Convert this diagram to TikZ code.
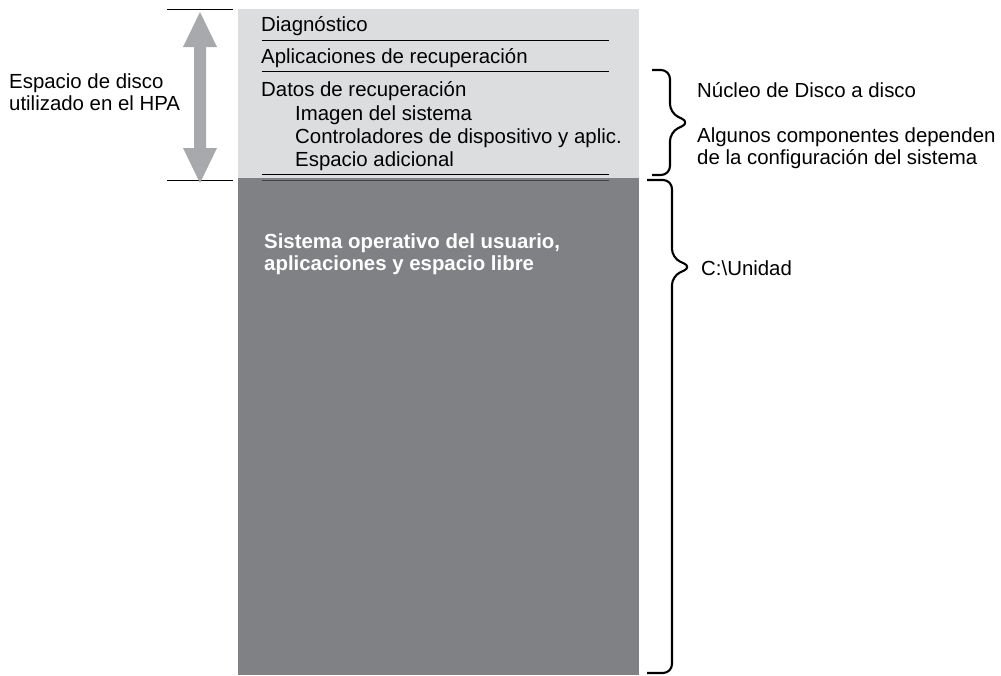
\documentclass[tikz,border=0pt]{standalone}
\usepackage{fontspec}
\setmainfont{Liberation Sans}
\definecolor{lightbox}{HTML}{DCDDDF}
\definecolor{darkbox}{HTML}{808185}
\definecolor{arrowgray}{HTML}{A7A9AC}
\definecolor{darkline}{HTML}{444446}
\begin{document}
\begin{tikzpicture}[x=1pt,y=-1pt,
  txt/.style={anchor=base west,inner sep=0pt,font=\fontsize{20.4}{23}\selectfont},
  btxt/.style={anchor=base west,inner sep=0pt,text=white,font=\fontsize{20.4}{23}\selectfont\bfseries},
  sepline/.style={line width=1.2pt},
  bracepath/.style={line width=2.1pt,rounded corners=9pt,line join=round},
  tick/.style={line width=0.9pt}]
\useasboundingbox (0,0) rectangle (1001,675);
% boxes
\fill[lightbox] (238,9) rectangle (639,178);
\fill[darkbox] (238,178) rectangle (639,675);
% texts in light box
\node[txt] (diag) at (261,31) {Diagnóstico};
\node[txt] (apl) at (261,63) {Aplicaciones de recuperación};
\node[txt] (datos) at (261,96) {Datos de recuperación};
\node[txt] (img) at (295,120) {Imagen del sistema};
\node[txt] (ctrl) at (295,143) {Controladores de dispositivo y aplic.};
\node[txt] (esp) at (295,166) {Espacio adicional};
% separators
\coordinate (s1a) at (262,40.5); \coordinate (s1b) at (609,40.5);
\coordinate (s2a) at (262,71.5); \coordinate (s2b) at (609,71.5);
\coordinate (s3a) at (262,174.5); \coordinate (s3b) at (609,174.5);
\coordinate (s4a) at (262,180.5); \coordinate (s4b) at (609,180.5);
\draw[sepline] (s1a) -- (s1b);
\draw[sepline] (s2a) -- (s2b);
\draw[sepline] (s3a) -- (s3b);
\draw[sepline,darkline,line width=1.6pt] (s4a) -- (s4b);
% dark box text
\node[btxt] (so1) at (264,248) {Sistema operativo del usuario,};
\node[btxt] (so2) at (264,270) {aplicaciones y espacio libre};
% left ticks and arrow
\coordinate (t1a) at (167,9.5); \coordinate (t1b) at (233,9.5);
\coordinate (t2a) at (167,180); \coordinate (t2b) at (233,180);
\draw[tick] (t1a) -- (t1b);
\draw[tick] (t2a) -- (t2b);
\fill[arrowgray] (200,12) -- (217,47) -- (206,47) -- (206,148) -- (217,148) -- (200,183)
  -- (183,148) -- (194,148) -- (194,47) -- (183,47) -- cycle;
\node[txt] (hpa1) at (9,88) {Espacio de disco};
\node[txt] (hpa2) at (9,110) {utilizado en el HPA};
% braces
\draw[bracepath] (652,70) -- (670,70) -- (670,113) -- (690,122.5) -- (670,132) -- (670,175) -- (652,175);
\draw[bracepath] (647,180) -- (672,180) -- (672,258) -- (692,267) -- (672,276) -- (672,673) -- (647,673);
% right texts
\node[txt] (nucleo) at (697,97) {Núcleo de Disco a disco};
\node[txt] (alg1) at (697,142) {Algunos componentes dependen};
\node[txt] (alg2) at (697,164) {de la configuración del sistema};
\node[txt] (cdrive) at (701,275) {C:\textbackslash Unidad};
\end{tikzpicture}
\end{document}
